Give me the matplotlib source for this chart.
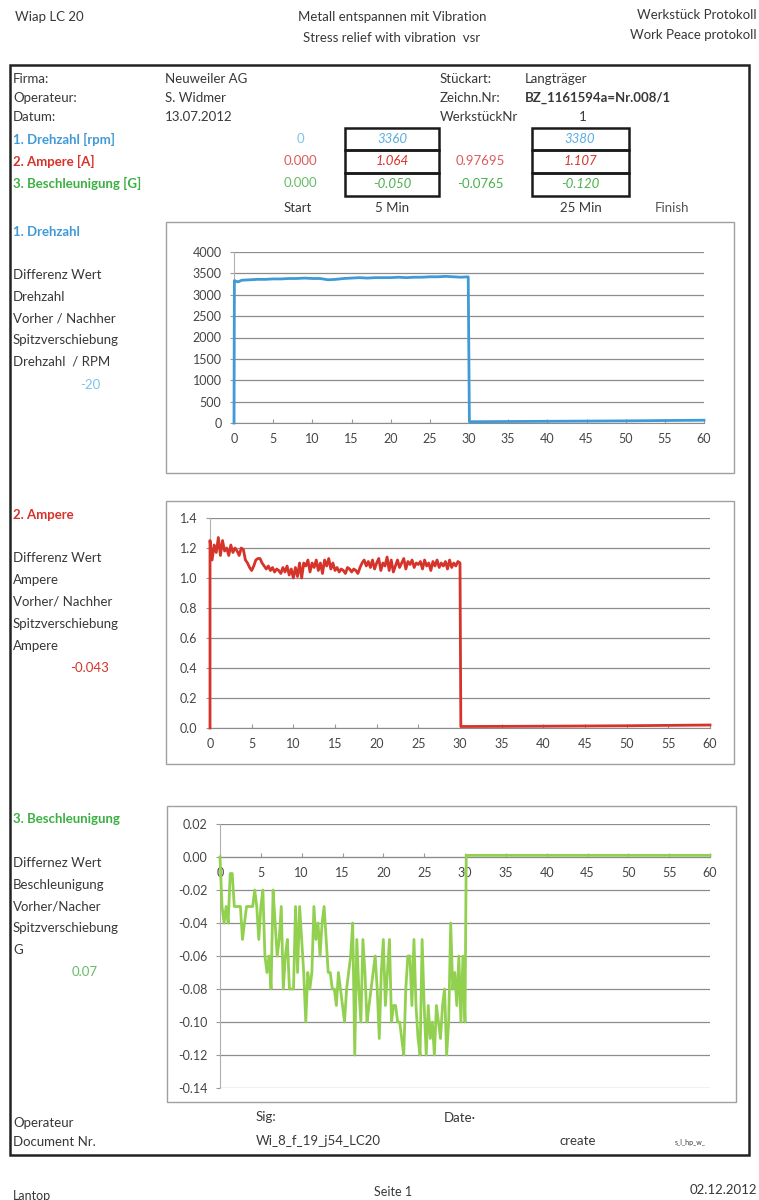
import numpy as np
import matplotlib.pyplot as plt
from matplotlib.patches import Rectangle
from matplotlib.ticker import FormatStrFormatter

plt.rcParams['font.family'] = ['Lato', 'DejaVu Sans']
plt.rcParams['axes.unicode_minus'] = False

W, H = 759, 1200

# ---- data read from the protocol ----
minute_ticks = [0, 5, 10, 15, 20, 25, 30, 35, 40, 45, 50, 55, 60]

# 1. Drehzahl [rpm]
rpm_time = [0, 0.05, 0.5, 1, 2, 3, 4, 5, 6, 7, 8, 9, 10, 11, 12, 13, 14, 15,
            16, 17, 18, 19, 20, 21, 22, 23, 24, 25, 26, 27, 28, 29, 29.9,
            30.05, 35, 40, 45, 50, 55, 60]
rpm_values = [0, 3330, 3300,
              3340, 3350, 3360, 3360, 3370, 3370, 3380, 3380, 3390, 3380,
              3380, 3350, 3360, 3380, 3390, 3400, 3390, 3400, 3400, 3400,
              3410, 3400, 3410, 3410, 3420, 3420, 3430, 3420, 3410,
              3420, 30, 35, 40, 45, 50, 58, 65]
rpm_ticks = [0, 500, 1000, 1500, 2000, 2500, 3000, 3500, 4000]

# sampling every 0.25 min while the vibration is running (0..30 min)
sample_time = np.arange(0, 30.01, 0.25)

# 2. Ampere [A]
amp_on = [1.25, 1.12, 1.22, 1.17, 1.27, 1.15, 1.25, 1.18,
          1.20, 1.15, 1.22, 1.17, 1.20, 1.18, 1.15, 1.20,
          1.19, 1.12, 1.10, 1.07, 1.05, 1.08, 1.12, 1.13,
          1.13, 1.10, 1.08, 1.06, 1.08, 1.05, 1.07, 1.04,
          1.06, 1.05, 1.03, 1.07, 1.04, 1.08, 1.02, 1.06,
          1.00, 1.07, 1.01, 1.10, 1.00, 1.10, 1.08, 1.12,
          1.04, 1.10, 1.07, 1.12, 1.05, 1.10, 1.03, 1.12,
          1.08, 1.13, 1.06, 1.10, 1.05, 1.07, 1.04, 1.06,
          1.05, 1.03, 1.07, 1.06, 1.04, 1.06, 1.05, 1.03,
          1.07, 1.10, 1.12, 1.08, 1.11, 1.07, 1.12, 1.06,
          1.10, 1.13, 1.05, 1.10, 1.08, 1.14, 1.05, 1.12,
          1.04, 1.08, 1.12, 1.07, 1.10, 1.13, 1.06, 1.11,
          1.09, 1.12, 1.07, 1.10, 1.09, 1.11, 1.06, 1.12,
          1.08, 1.10, 1.05, 1.11, 1.08, 1.12, 1.07, 1.10,
          1.08, 1.11, 1.06, 1.12, 1.07, 1.10, 1.08, 1.11,
          1.10]
amp_off_time = [30.1, 40, 50, 60]
amp_off = [0.01, 0.012, 0.015, 0.02]
amp_ticks = [0.0, 0.2, 0.4, 0.6, 0.8, 1.0, 1.2, 1.4]

# 3. Beschleunigung [G]
acc_on = [0.00, -0.03, -0.04, -0.03, -0.04, -0.01, -0.01, -0.03,
          -0.03, -0.03, -0.03, -0.05, -0.04, -0.03, -0.03, -0.03,
          -0.03, -0.02, -0.03, -0.05, -0.03, -0.02, -0.06, -0.07,
          -0.06, -0.08, -0.02, -0.04, -0.06, -0.05, -0.03, -0.08,
          -0.06, -0.05, -0.08, -0.08, -0.08, -0.03, -0.07, -0.03,
          -0.05, -0.07, -0.10, -0.07, -0.08, -0.07, -0.03, -0.05,
          -0.04, -0.06, -0.04, -0.03, -0.05, -0.07, -0.07, -0.08,
          -0.08, -0.09, -0.07, -0.08, -0.09, -0.10, -0.08, -0.07,
          -0.06, -0.04, -0.12, -0.05, -0.08, -0.10, -0.05, -0.07,
          -0.10, -0.09, -0.08, -0.07, -0.06, -0.08, -0.11, -0.07,
          -0.05, -0.09, -0.07, -0.05, -0.10, -0.09, -0.09, -0.10,
          -0.10, -0.11, -0.12, -0.08, -0.06, -0.06, -0.09, -0.05,
          -0.09, -0.11, -0.12, -0.05, -0.09, -0.12, -0.09, -0.11,
          -0.10, -0.12, -0.09, -0.10, -0.11, -0.09, -0.08, -0.12,
          -0.10, -0.04, -0.08, -0.07, -0.09, -0.06, -0.10, -0.06,
          -0.10]
acc_off_time = [30.15, 60]
acc_off = [0.001, 0.001]
acc_ticks = [-0.14, -0.12, -0.10, -0.08, -0.06, -0.04, -0.02, 0.00, 0.02]

BLUE = '#3f9ad8'
RED = '#d6332b'
GREEN = '#92d050'
TXT = '#383838'

fig = plt.figure(figsize=(W / 100, H / 100), dpi=100)


def put(x, y, s, **kw):
    kw.setdefault('fontsize', 9.5)
    kw.setdefault('color', TXT)
    kw.setdefault('va', 'center')
    fig.text(x / W, 1 - y / H, s, **kw)


def rect(x0, y0, x1, y1, **kw):
    fig.add_artist(Rectangle((x0 / W, 1 - y1 / H), (x1 - x0) / W, (y1 - y0) / H,
                             transform=fig.transFigure, fill=False, **kw))


def chart(box, frame, x, y, color, ylim, yticks, yfmt, cross_zero=False):
    l, t, r, b = box
    rect(*frame, ec='#a0a0a0', lw=1.0)
    ax = fig.add_axes([l / W, 1 - b / H, (r - l) / W, (b - t) / H])
    ax.patch.set_alpha(0)
    ax.plot(x, y, color=color, lw=2.0, clip_on=False, zorder=3)
    ax.set_xlim(0, 60)
    ax.set_ylim(*ylim)
    ax.set_xticks(minute_ticks)
    ax.set_yticks(yticks)
    ax.yaxis.set_major_formatter(FormatStrFormatter(yfmt))
    ax.grid(axis='y', color='#8c8c8c', lw=0.9)
    ax.set_axisbelow(True)
    for s in ['top', 'right']:
        ax.spines[s].set_visible(False)
    ax.spines['left'].set_color('#b0b0b0')
    ax.spines['bottom'].set_color('#8c8c8c')
    if cross_zero:
        ax.spines['bottom'].set_position(('data', 0))
    ax.tick_params(axis='y', direction='out', length=3, color='#999999',
                   labelsize=9, labelcolor='#454545', pad=6)
    ax.tick_params(axis='x', direction='in', length=3, color='#999999',
                   labelsize=9, labelcolor='#454545', pad=7)
    return ax


# ---- header ----
put(15, 17, 'Wiap LC 20')
put(392, 17, 'Metall entspannen mit Vibration', ha='center')
put(392, 38, 'Stress relief with vibration  vsr', ha='center')
put(757, 15, 'Werkstück Protokoll', ha='right')
put(757, 35, 'Work Peace protokoll', ha='right')

rect(10, 65, 749, 1155, ec='#222222', lw=1.8)

# ---- table ----
put(13, 79, 'Firma:')
put(13, 98, 'Operateur:')
put(13, 117, 'Datum:')
put(165, 79, 'Neuweiler AG')
put(165, 98, 'S. Widmer')
put(165, 117, '13.07.2012')
put(440, 79, 'Stückart:')
put(440, 98, 'Zeichn.Nr:')
put(440, 117, 'WerkstückNr')
put(525, 79, 'Langträger')
put(525, 98, 'BZ_1161594a=Nr.008/1', fontweight='bold')
put(583, 117, '1', ha='center')

put(13, 139, '1. Drehzahl [rpm]', color=BLUE, fontweight='bold')
put(13, 161, '2. Ampere [A]', color=RED, fontweight='bold')
put(13, 183, '3. Beschleunigung [G]', color='#3cb043', fontweight='bold')

put(300, 139, '0', color='#7cc4e8', ha='center')
put(317, 161, '0.000', color='#e05a5a', ha='right')
put(317, 183, '0.000', color='#66bd66', ha='right')

for bx0, bx1 in [(345, 439), (532, 629)]:
    for y0, y1 in [(128, 150), (150, 173), (173, 196)]:
        rect(bx0, y0, bx1, y1, ec='#1a1a1a', lw=1.8)

put(392, 139, '3360', color='#5aaee0', style='italic', ha='center')
put(392, 161, '1.064', color=RED, style='italic', ha='center')
put(392, 184, '-0.050', color='#4caf4c', style='italic', ha='center')
put(480, 161, '0.97695', color='#e05a5a', ha='center')
put(480, 184, '-0.0765', color='#4caf4c', ha='center')
put(580, 139, '3380', color='#5aaee0', style='italic', ha='center')
put(580, 161, '1.107', color=RED, style='italic', ha='center')
put(580, 184, '-0.120', color='#4caf4c', style='italic', ha='center')

put(298, 208, 'Start', ha='center')
put(392, 208, '5 Min', ha='center')
put(581, 208, '25 Min', ha='center')
put(672, 208, 'Finish', ha='center', color='#555555')

# ---- chart 1: Drehzahl ----
put(13, 232, '1. Drehzahl', color=BLUE, fontweight='bold')
for i, s in enumerate(['Differenz Wert', 'Drehzahl', 'Vorher / Nachher',
                       'Spitzverschiebung', 'Drehzahl  / RPM']):
    put(13, 275 + i * 21.7, s)
put(90, 385, '-20', color='#7cc4e8', ha='center')
chart((234, 252, 704, 423), (166, 222, 734, 473), rpm_time, rpm_values, BLUE,
      (0, 4000), rpm_ticks, '%d')

# ---- chart 2: Ampere ----
put(13, 515, '2. Ampere', color=RED, fontweight='bold')
for i, s in enumerate(['Differenz Wert', 'Ampere', 'Vorher/ Nachher',
                       'Spitzverschiebung', 'Ampere']):
    put(13, 558 + i * 22, s)
put(90, 668, '-0.043', color=RED, ha='center')
amp_x = np.concatenate([[0], sample_time, amp_off_time])
amp_y = np.concatenate([[0], amp_on, amp_off])
chart((210, 518, 710, 728), (166, 501, 734, 764), amp_x, amp_y, RED,
      (0, 1.4), amp_ticks, '%.1f')

# ---- chart 3: Beschleunigung ----
put(13, 819, '3. Beschleunigung', color='#3cb043', fontweight='bold')
for i, s in enumerate(['Differnez Wert', 'Beschleunigung', 'Vorher/Nacher',
                       'Spitzverschiebung', 'G']):
    put(13, 863 + i * 21.7, s)
put(85, 972, '0.07', color='#66bd66', ha='center')
acc_x = np.concatenate([sample_time, acc_off_time])
acc_y = np.concatenate([acc_on, acc_off])
chart((220, 824, 710, 1088), (167, 806, 736, 1102), acc_x, acc_y, GREEN,
      (-0.14, 0.02), acc_ticks, '%.2f', cross_zero=True)

# ---- footer ----
put(13, 1123, 'Operateur')
put(13, 1142, 'Document Nr.')
put(256, 1117, 'Sig:')
put(256, 1141, 'Wi_8_f_19_j54_LC20')
put(444, 1118, 'Date·')
put(559, 1141, 'create')
put(675, 1142, 's_l_hp_w_', fontsize=5)
put(13, 1196, 'Lantop', fontsize=9)
put(393, 1192, 'Seite 1', ha='center', fontsize=9)
put(757, 1190, '02.12.2012', ha='right')

fig.savefig('out.png', dpi=100)
